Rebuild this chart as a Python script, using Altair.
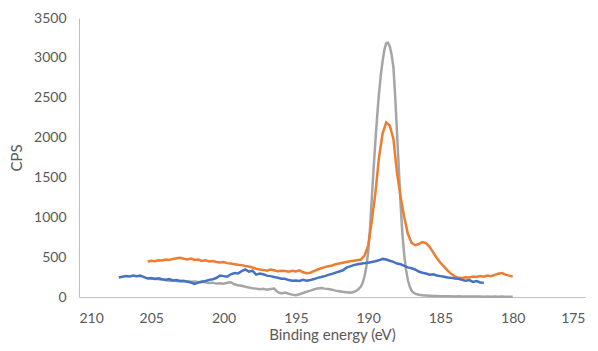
import altair as alt
import pandas as pd

# Blue series (eV, CPS)
blue_ev = [207.25, 207.0, 206.75, 206.5, 206.25, 206.0, 205.75, 205.5, 205.25, 205.0,
           204.75, 204.5, 204.25, 204.0, 203.75, 203.5, 203.25, 203.0, 202.75, 202.5,
           202.25, 202.0, 201.75, 201.5, 201.25, 201.0, 200.75, 200.5, 200.25, 200.0,
           199.75, 199.5, 199.25, 199.0, 198.75, 198.5, 198.25, 198.0, 197.75, 197.5,
           197.25, 197.0, 196.75, 196.5, 196.25, 196.0, 195.75, 195.5, 195.25, 195.0,
           194.75, 194.5, 194.25, 194.0, 193.75, 193.5, 193.25, 193.0, 192.75, 192.5,
           192.25, 192.0, 191.75, 191.5, 191.25, 191.0, 190.75, 190.5, 190.25, 190.0,
           189.75, 189.5, 189.25, 189.0, 188.75, 188.5, 188.25, 188.0, 187.75, 187.5,
           187.25, 187.0, 186.75, 186.5, 186.25, 186.0, 185.75, 185.5, 185.25, 185.0,
           184.75, 184.5, 184.25, 184.0, 183.75, 183.5, 183.25, 183.0, 182.75, 182.5,
           182.25, 182.0]
blue_cps = [245, 255, 262, 258, 270, 262, 268, 250, 232, 238,
            225, 235, 222, 218, 225, 208, 212, 198, 205, 190,
            182, 165, 180, 192, 200, 215, 222, 238, 270, 262,
            255, 285, 300, 295, 325, 345, 318, 330, 280, 295,
            285, 268, 262, 250, 242, 230, 228, 212, 205, 208,
            200, 215, 205, 212, 225, 240, 250, 262, 278, 290,
            305, 320, 335, 368, 385, 400, 410, 418, 425, 430,
            440, 448, 460, 478, 470, 455, 440, 420, 410, 390,
            372, 360, 345, 320, 305, 295, 280, 285, 270, 262,
            255, 245, 240, 232, 228, 215, 205, 212, 190, 200,
            182, 178]

# Orange series
orange_ev = [205.25, 205.0, 204.75, 204.5, 204.25, 204.0, 203.75, 203.5, 203.25, 203.0,
             202.75, 202.5, 202.25, 202.0, 201.75, 201.5, 201.25, 201.0, 200.75, 200.5,
             200.25, 200.0, 199.75, 199.5, 199.25, 199.0, 198.75, 198.5, 198.25, 198.0,
             197.75, 197.5, 197.25, 197.0, 196.75, 196.5, 196.25, 196.0, 195.75, 195.5,
             195.25, 195.0, 194.75, 194.5, 194.25, 194.0, 193.75, 193.5, 193.25, 193.0,
             192.75, 192.5, 192.25, 192.0, 191.75, 191.5, 191.25, 191.0, 190.75, 190.5,
             190.25, 190.0, 189.75, 189.5, 189.25, 189.0, 188.75, 188.5, 188.25, 188.0,
             187.75, 187.5, 187.25, 187.0, 186.75, 186.5, 186.25, 186.0, 185.75, 185.5,
             185.25, 185.0, 184.75, 184.5, 184.25, 184.0, 183.75, 183.5, 183.25, 183.0,
             182.75, 182.5, 182.25, 182.0, 181.75, 181.5, 181.25, 181.0, 180.75, 180.5,
             180.25, 180.0]
orange_cps = [445, 455, 450, 462, 458, 470, 465, 478, 485, 492,
              480, 470, 482, 465, 470, 452, 460, 445, 450, 440,
              432, 438, 425, 420, 412, 405, 400, 390, 382, 370,
              355, 345, 340, 330, 345, 335, 322, 330, 325, 318,
              330, 320, 335, 310, 298, 305, 325, 345, 360, 375,
              385, 395, 410, 420, 430, 440, 448, 455, 462, 470,
              520, 640, 950, 1300, 1750, 2050, 2190, 2150, 1980, 1550,
              1250, 1000, 790, 680, 650, 665, 690, 675, 630, 560,
              490, 430, 380, 330, 290, 258, 240, 238, 248, 245,
              258, 250, 262, 255, 270, 262, 278, 292, 300, 280,
              268, 255]

# Gray series
gray_ev = [205.25, 205.0, 204.75, 204.5, 204.25, 204.0, 203.75, 203.5, 203.25, 203.0,
           202.75, 202.5, 202.25, 202.0, 201.75, 201.5, 201.25, 201.0, 200.75, 200.5,
           200.25, 200.0, 199.75, 199.5, 199.25, 199.0, 198.75, 198.5, 198.25, 198.0,
           197.75, 197.5, 197.25, 197.0, 196.75, 196.5, 196.25, 196.0, 195.75, 195.5,
           195.25, 195.0, 194.75, 194.5, 194.25, 194.0, 193.75, 193.5, 193.25, 193.0,
           192.75, 192.5, 192.25, 192.0, 191.75, 191.5, 191.25, 191.0, 190.75, 190.5,
           190.375, 190.25, 190.125, 190.0, 189.875, 189.75, 189.625, 189.5, 189.375, 189.25,
           189.125, 189.0, 188.875, 188.75, 188.625, 188.5, 188.375, 188.25, 188.125, 188.0,
           187.875, 187.75, 187.625, 187.5, 187.375, 187.25, 187.125, 187.0, 186.875, 186.75,
           186.5, 186.25, 186.0, 185.75, 185.5, 185.25, 185.0, 184.75, 184.5, 184.25,
           184.0, 183.75, 183.5, 183.25, 183.0, 182.75, 182.5, 182.25, 182.0, 181.75,
           181.5, 181.25, 181.0, 180.75, 180.5, 180.25, 180.0]
gray_cps = [240, 230, 228, 222, 218, 210, 205, 208, 200, 205,
            195, 198, 190, 195, 188, 192, 185, 175, 180, 168,
            172, 165, 178, 185, 160, 148, 140, 128, 118, 110,
            105, 98, 102, 92, 100, 105, 60, 45, 55, 40,
            30, 22, 35, 50, 68, 80, 95, 108, 112, 105,
            100, 92, 80, 72, 65, 60, 55, 62, 85, 130,
            180, 260, 380, 560, 850, 1230, 1600, 1950, 2270, 2550,
            2780, 2960, 3100, 3185, 3190, 3140, 3040, 2880, 2500, 2050,
            1600, 1150, 780, 520, 340, 210, 130, 80, 55, 42,
            28, 22, 18, 15, 12, 12, 10, 10, 8, 9,
            7, 8, 6, 7, 5, 6, 5, 6, 4, 5,
            4, 5, 4, 5, 4, 4, 4]

x_ticks = [210, 205, 200, 195, 190, 185, 180, 175]
y_ticks = [0, 500, 1000, 1500, 2000, 2500, 3000, 3500]

FONT = "Lato"
LABEL_COLOR = "#595959"

x_enc = alt.X("ev:Q", scale=alt.Scale(domain=[175, 210], reverse=True, nice=False),
              axis=alt.Axis(values=x_ticks, format="d", title="Binding energy (eV)",
                            grid=False, ticks=False, labelPadding=14,
                            titleBaseline="alphabetic", titleY=42,
                            domainColor="#BFBFBF", domainWidth=1))
y_enc = alt.Y("cps:Q", scale=alt.Scale(domain=[0, 3500], nice=False),
              axis=alt.Axis(values=y_ticks, format="d", title="CPS", grid=False,
                            ticks=False, labelPadding=13, titlePadding=9,
                            domainColor="#BFBFBF", domainWidth=1))


def layer(ev, cps, color):
    df = pd.DataFrame({"ev": ev, "cps": cps})
    return alt.Chart(df).mark_line(color=color, strokeWidth=2.5).encode(
        x=x_enc, y=y_enc, order="ev:Q")


chart = alt.layer(
    layer(gray_ev, gray_cps, "#A5A5A5"),
    layer(orange_ev, orange_cps, "#ED7D31"),
    layer(blue_ev, blue_cps, "#4472C4"),
).properties(
    width=506, height=279,
    autosize=alt.AutoSizeParams(type="none"),
    padding={"left": 71, "top": 10, "right": 5, "bottom": 46},
).configure_view(stroke=None).configure_axis(
    labelFont=FONT, labelFontSize=14, labelColor=LABEL_COLOR,
    titleFont=FONT, titleFontSize=15, titleColor=LABEL_COLOR, titleFontWeight="normal",
)

chart.save("out.html", embed_options={"renderer": "svg", "actions": False})
